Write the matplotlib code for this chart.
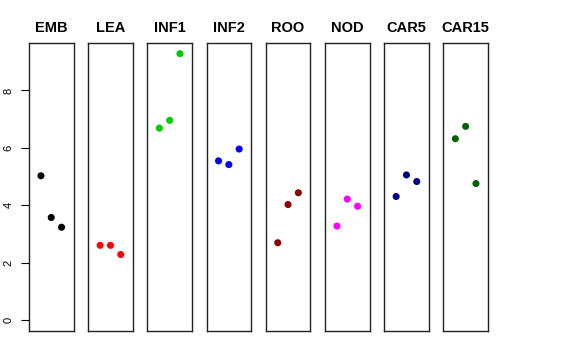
import matplotlib
matplotlib.use("Agg")
import matplotlib.pyplot as plt

groups = ["EMB", "LEA", "INF1", "INF2", "ROO", "NOD", "CAR5", "CAR15"]
values = [
    [5.03, 3.58, 3.24],
    [2.61, 2.61, 2.29],
    [6.69, 6.96, 9.28],
    [5.55, 5.42, 5.96],
    [2.70, 4.03, 4.44],
    [3.28, 4.22, 3.97],
    [4.31, 5.06, 4.83],
    [6.32, 6.75, 4.76],
]
colors = ["black", "#FF0000", "#00CD00", "#0000FF", "#8B0000", "#FF00FF", "#00008B", "#006400"]
yticks = [0, 2, 4, 6, 8]

W, H = 576, 360
fig = plt.figure(figsize=(W / 100, H / 100), dpi=100)
plt.rcParams['font.family'] = ['Liberation Sans', 'DejaVu Sans']

left0 = 29.0
pitch = 59.2
pw = 44.5
top, bottom = 43.0, 331.0
ymax = max(max(v) for v in values)
ypad = 0.04 * ymax

for i, (g, vals, c) in enumerate(zip(groups, values, colors)):
    l = left0 + i * pitch
    ax = fig.add_axes([l / W, 1 - bottom / H, pw / W, (bottom - top) / H])
    xs = list(range(1, len(vals) + 1))
    ax.scatter(xs, vals, s=26, color=c, edgecolors='none', zorder=3)
    ax.set_xlim(0 - 0.16, 4 + 0.16)
    ax.set_ylim(0 - ypad, ymax + ypad)
    ax.set_xticks([])
    for sp in ax.spines.values():
        sp.set_linewidth(1.0)
        sp.set_color('#222222')
    ax.set_title(g, fontsize=10.5, fontweight='bold', pad=8)
    if i == 0:
        ax.set_yticks(yticks)
        ax.set_yticklabels([str(t) for t in yticks], rotation=90, va='center', fontsize=8)
        ax.tick_params(axis='y', length=6, width=0.8, pad=5)
    else:
        ax.set_yticks([])

fig.savefig("out.png", dpi=100)
